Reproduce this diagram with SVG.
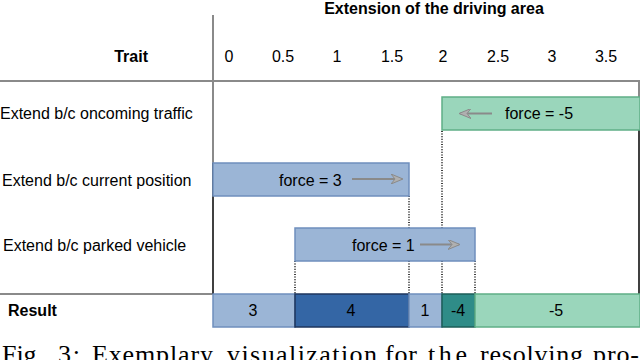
<svg xmlns="http://www.w3.org/2000/svg" width="640" height="360" viewBox="0 0 640 360">
<style>
text{font-family:"Liberation Sans",Arial,sans-serif;font-size:16px;fill:#000}
.b{font-weight:bold}
.m{text-anchor:middle}
.cap{font-family:"Liberation Serif","Times New Roman",serif;font-size:26px}
.grid{stroke:#8a8a8a;stroke-width:2;fill:none}
.blk{stroke:#000;stroke-width:1.5;fill:none}
.dot{stroke:#000;stroke-width:1.5;stroke-dasharray:1 1.6;fill:none}
.lb{fill:#9bb5d6;stroke:#6f8fbd;stroke-width:1.5}
.db{fill:#3466a5;stroke:#1e365e;stroke-width:1.5}
.gr{fill:#9ad6bb;stroke:#5faf87;stroke-width:1.5}
.tl{fill:#2f8c88;stroke:#1d5e58;stroke-width:1.5}
.arr{stroke:#8a8a8a;stroke-width:2;fill:none}
</style>
<defs>
<marker id="ah" viewBox="0 0 12 10" refX="11" refY="5" markerWidth="12" markerHeight="10" markerUnits="userSpaceOnUse" orient="auto">
<path d="M0,0 L12,5 L0,10 L4,5 Z" fill="#b0b0b0" stroke="#8a8a8a" stroke-width="1"/>
</marker>
</defs>
<rect width="640" height="360" fill="#fff"/>

<g id="table">
<line class="grid" x1="213" y1="15" x2="213" y2="163"/>
<polyline class="grid" points="0,81 639,81 639,97"/>
<line class="grid" x1="0" y1="294" x2="213" y2="294"/>
<line class="blk" x1="213" y1="163" x2="213" y2="294"/>
<line class="blk" x1="639" y1="130" x2="639" y2="294"/>
</g>

<g id="header">
<text class="b m" x="434" y="14">Extension of the driving area</text>
<text class="b" x="148" y="62" text-anchor="end">Trait</text>
<text class="m" x="229" y="62">0</text>
<text class="m" x="283" y="62">0.5</text>
<text class="m" x="337" y="62">1</text>
<text class="m" x="392" y="62">1.5</text>
<text class="m" x="443" y="62">2</text>
<text class="m" x="498" y="62">2.5</text>
<text class="m" x="552" y="62">3</text>
<text class="m" x="606" y="62">3.5</text>
</g>

<g id="labels">
<text x="0" y="119">Extend b/c oncoming traffic</text>
<text x="2" y="186">Extend b/c current position</text>
<text x="3" y="251">Extend b/c parked vehicle</text>
<text class="b" x="8" y="316">Result</text>
</g>

<g id="connectors">
<line class="dot" x1="442" y1="131" x2="442" y2="294"/>
<line class="dot" x1="409" y1="196" x2="409" y2="294"/>
<line class="dot" x1="295" y1="261" x2="295" y2="294"/>
<line class="dot" x1="475" y1="261" x2="475" y2="294"/>
</g>

<g id="oncoming">
<rect class="gr" x="442" y="97" width="198" height="33"/>
<line class="arr" x1="492" y1="113.5" x2="460" y2="113.5" marker-end="url(#ah)"/>
<text x="505" y="119">force = -5</text>
</g>

<g id="current">
<rect class="lb" x="213" y="163" width="196" height="33"/>
<text x="279" y="186">force = 3</text>
<line class="arr" x1="352" y1="179" x2="402" y2="179" marker-end="url(#ah)"/>
</g>

<g id="parked">
<rect class="lb" x="295" y="228" width="180" height="33"/>
<text x="352" y="251">force = 1</text>
<line class="arr" x1="420" y1="244.5" x2="459" y2="244.5" marker-end="url(#ah)"/>
</g>

<g id="result">
<rect class="lb" x="213" y="294" width="82" height="33"/>
<rect class="db" x="295" y="294" width="114" height="33"/>
<rect class="lb" x="409" y="294" width="33" height="33"/>
<rect class="tl" x="442" y="294" width="33" height="33"/>
<rect class="gr" x="475" y="294" width="165" height="33"/>
<text class="m" x="253" y="316">3</text>
<text class="m" x="351" y="316">4</text>
<text class="m" x="425" y="316">1</text>
<text class="m" x="458" y="316">-4</text>
<text class="m" x="556" y="316">-5</text>
</g>

<text class="cap" y="363"><tspan x="2" textLength="41">Fig.</tspan> <tspan x="58" textLength="22">3:</tspan> <tspan x="92" textLength="121">Exemplary</tspan> <tspan x="227" textLength="150">visualization</tspan> <tspan x="385" textLength="32">for</tspan> <tspan x="428" textLength="39">the</tspan> <tspan x="480" textLength="103">resolving</tspan> <tspan x="593" textLength="46">pro-</tspan></text>
</svg>
